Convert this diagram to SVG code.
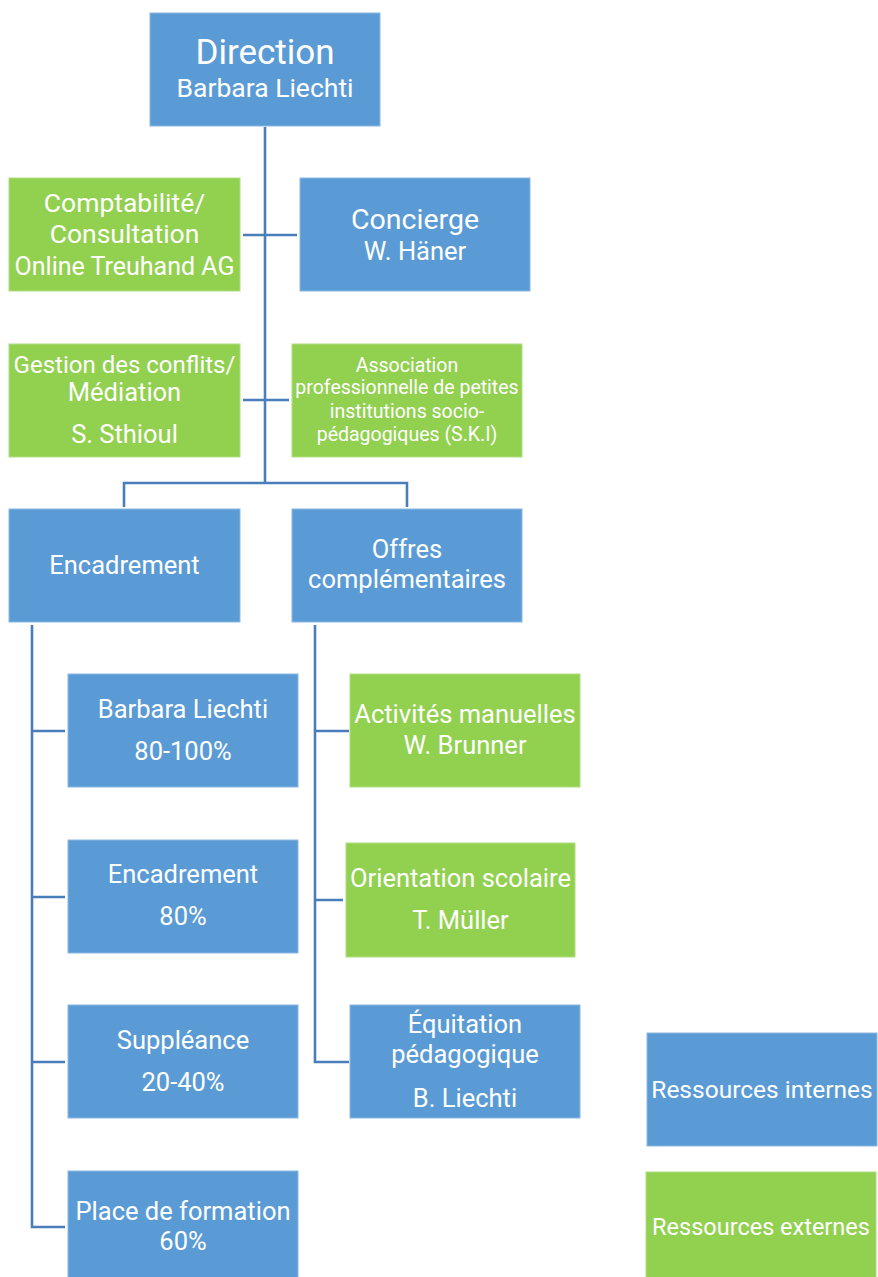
<svg xmlns="http://www.w3.org/2000/svg" width="878" height="1277" viewBox="0 0 878 1277">
<style>
.b{fill:#5B9BD5;stroke:#8CB8E2;stroke-width:1}
.g{fill:#92D050;stroke:#B0DE80;stroke-width:1}
text{font-family:Roboto,"Liberation Sans",sans-serif;fill:#FFFFFF;text-anchor:middle;font-size:25.5px}
.l{fill:none;stroke:#4A7EBB;stroke-width:2.6}
.s{font-size:19.5px}
</style>
<rect width="878" height="1277" fill="#FFFFFF"/>
<g id="connectors">
<path class="l" d="M265 127V483"/>
<path class="l" d="M243 235H297"/>
<path class="l" d="M243 400H289"/>
<path class="l" d="M124 507V483H407V507"/>
<path class="l" d="M32 625V1227H65M32 731H65M32 897H65M32 1062H65"/>
<path class="l" d="M315 625V1062H349M315 731H349M315 900H343"/>
</g>
<g id="direction"><rect class="b" x="150" y="13" width="230" height="113"/><text x="265" y="64" style="font-size:35px">Direction</text><text x="265" y="97" style="font-size:26.5px">Barbara Liechti</text></g>
<g id="comptabilite"><rect class="g" x="9" y="178" width="231" height="113"/><text x="124.5" y="212" style="font-size:26.5px">Comptabilité/</text><text x="124.5" y="243" style="font-size:26.5px">Consultation</text><text x="124.5" y="275" style="font-size:25px">Online Treuhand AG</text></g>
<g id="concierge"><rect class="b" x="300" y="178" width="230" height="113"/><text x="415" y="229" style="font-size:28.5px">Concierge</text><text x="415" y="260">W. Häner</text></g>
<g id="gestion"><rect class="g" x="9" y="344" width="231" height="113"/><text x="124.5" y="373" style="font-size:24px">Gestion des conflits/</text><text x="124.5" y="401">Médiation</text><text x="124.5" y="443">S. Sthioul</text></g>
<g id="association"><rect class="g" x="292" y="344" width="230" height="113"/><text class="s" x="407" y="372">Association</text><text class="s" x="407" y="394">professionnelle de petites</text><text class="s" x="407" y="418">institutions socio-</text><text class="s" x="407" y="441">pédagogiques (S.K.I)</text></g>
<g id="encadrement"><rect class="b" x="9" y="509" width="231" height="113"/><text x="124.5" y="574">Encadrement</text></g>
<g id="offres"><rect class="b" x="292" y="509" width="230" height="113"/><text x="407" y="558">Offres</text><text x="407" y="588">complémentaires</text></g>
<g id="barbara"><rect class="b" x="68" y="674" width="230" height="113"/><text x="183" y="718">Barbara Liechti</text><text x="183" y="760">80-100%</text></g>
<g id="encadrement80"><rect class="b" x="68" y="840" width="230" height="113"/><text x="183" y="883">Encadrement</text><text x="183" y="925">80%</text></g>
<g id="suppleance"><rect class="b" x="68" y="1005" width="230" height="113"/><text x="183" y="1049">Suppléance</text><text x="183" y="1091">20-40%</text></g>
<g id="formation"><rect class="b" x="68" y="1171" width="230" height="110"/><text x="183" y="1220">Place de formation</text><text x="183" y="1250">60%</text></g>
<g id="activites"><rect class="g" x="350" y="674" width="230" height="113"/><text x="465" y="723">Activités manuelles</text><text x="465" y="754">W. Brunner</text></g>
<g id="orientation"><rect class="g" x="346" y="843" width="229" height="114"/><text x="460.5" y="887">Orientation scolaire</text><text x="460.5" y="929">T. Müller</text></g>
<g id="equitation"><rect class="b" x="350" y="1005" width="230" height="113"/><text x="465" y="1033">Équitation</text><text x="465" y="1063">pédagogique</text><text x="465" y="1107">B. Liechti</text></g>
<g id="legend-internes"><rect class="b" x="647" y="1033" width="230" height="113"/><text x="762" y="1098" style="font-size:24.5px">Ressources internes</text></g>
<g id="legend-externes"><rect class="g" x="646" y="1172" width="230" height="110"/><text x="761" y="1235" style="font-size:23.5px">Ressources externes</text></g>
</svg>
